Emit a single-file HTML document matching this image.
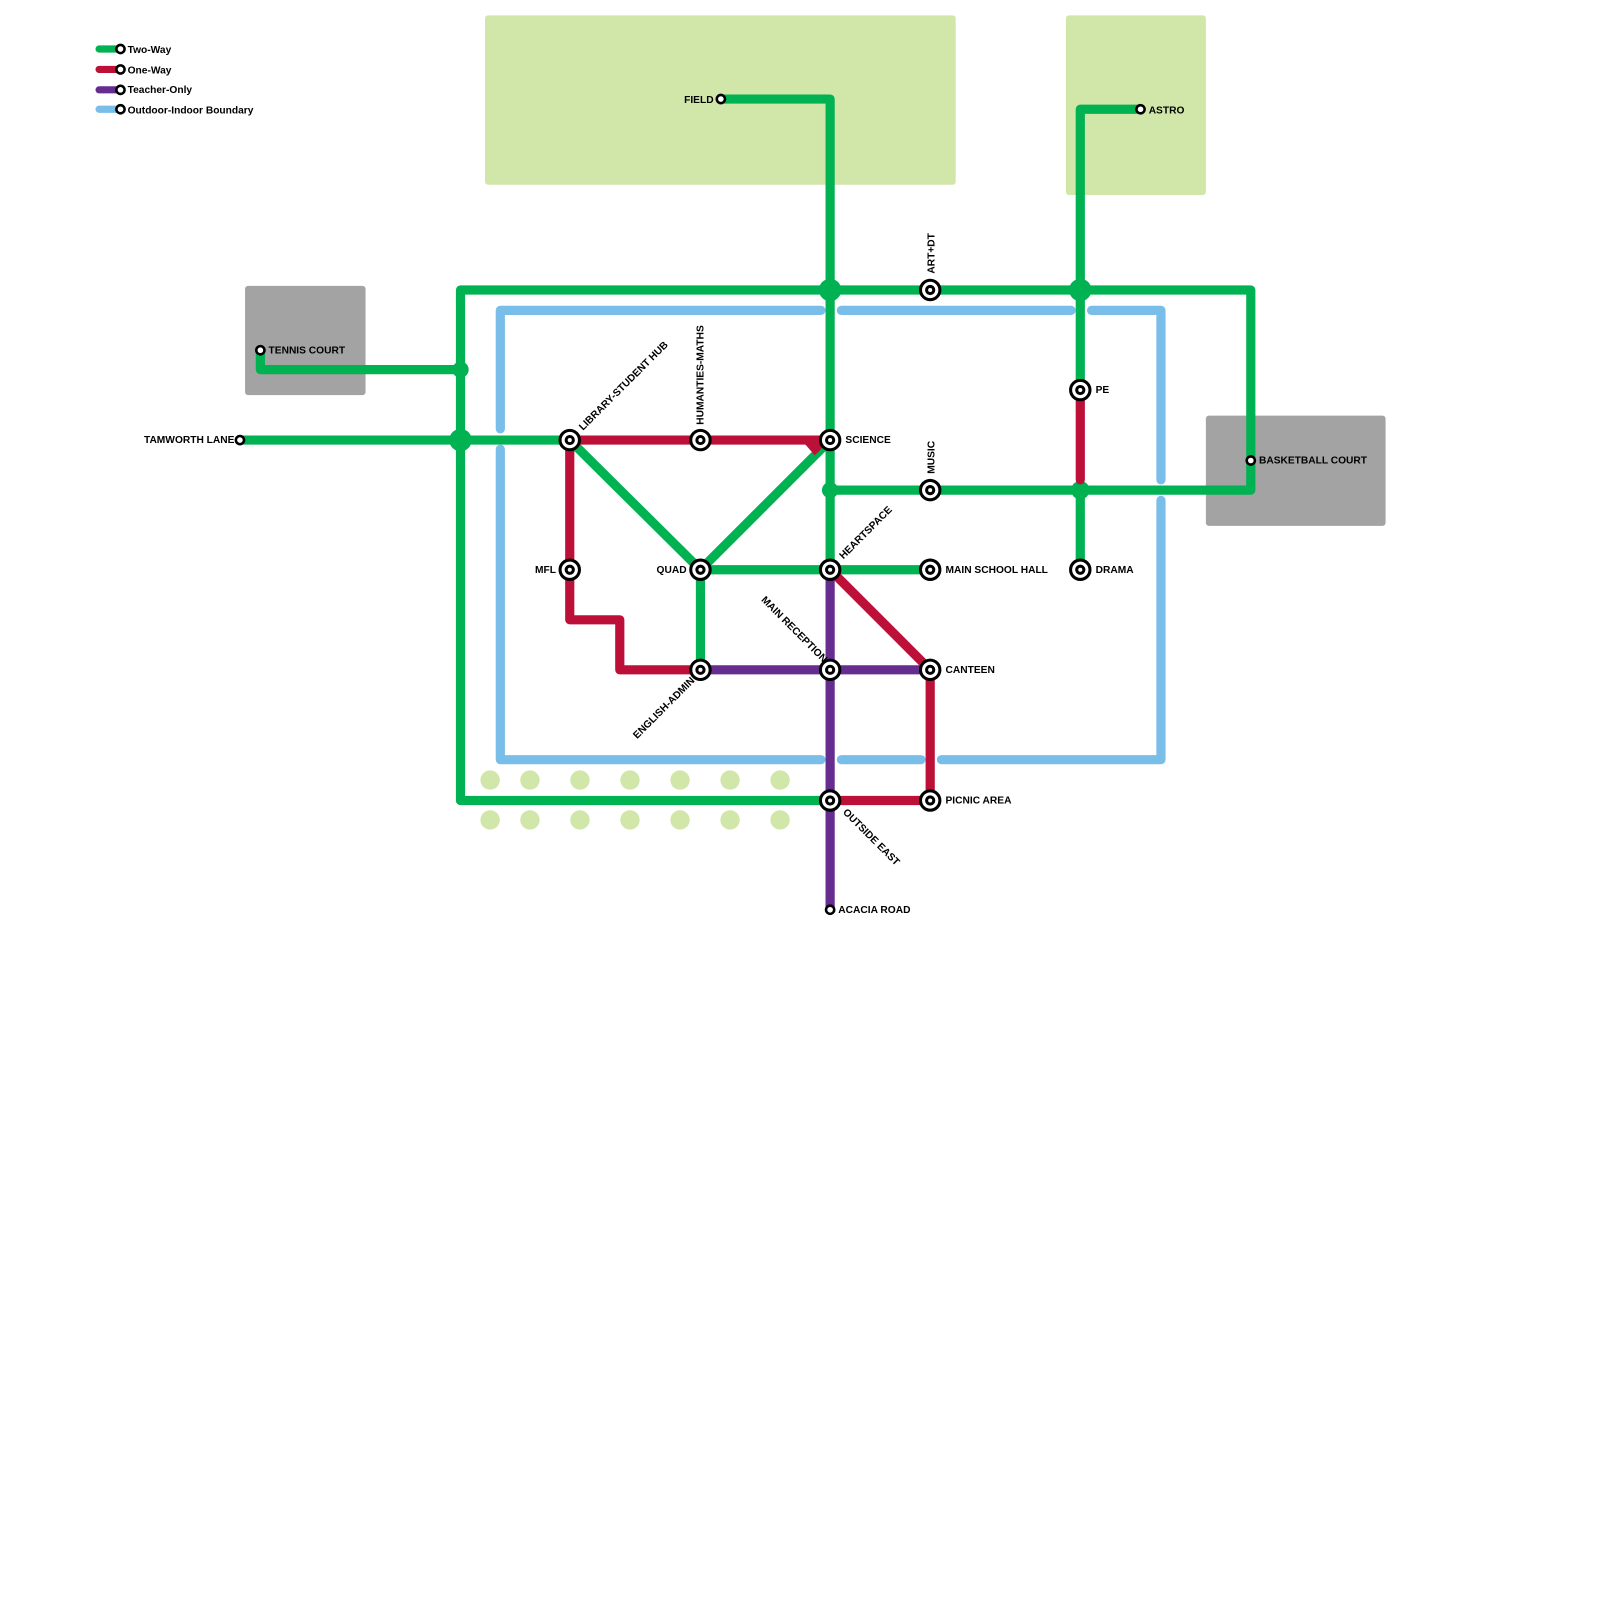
<!DOCTYPE html>
<html><head><meta charset="utf-8"><style>html,body{margin:0;padding:0;background:#fff}svg{display:block}text{font-family:"Liberation Sans",sans-serif;font-weight:bold;font-size:10px;fill:#000}</style></head><body>
<svg width="1600" height="1600" viewBox="0 0 1567 1567" xmlns="http://www.w3.org/2000/svg">
<rect x="475" y="15" width="461" height="166" rx="3" fill="#d1e6a9"/>
<rect x="1044" y="15" width="137" height="176" rx="3" fill="#d1e6a9"/>
<rect x="240" y="280" width="118" height="107" rx="3" fill="#a3a3a3"/>
<rect x="1181" y="407" width="176" height="108" rx="3" fill="#a3a3a3"/>
<g fill="#d1e6a9">
<circle cx="480" cy="764" r="9.5"/><circle cx="519" cy="764" r="9.5"/><circle cx="568" cy="764" r="9.5"/><circle cx="617" cy="764" r="9.5"/><circle cx="666" cy="764" r="9.5"/><circle cx="715" cy="764" r="9.5"/><circle cx="764" cy="764" r="9.5"/>
<circle cx="480" cy="803" r="9.5"/><circle cx="519" cy="803" r="9.5"/><circle cx="568" cy="803" r="9.5"/><circle cx="617" cy="803" r="9.5"/><circle cx="666" cy="803" r="9.5"/><circle cx="715" cy="803" r="9.5"/><circle cx="764" cy="803" r="9.5"/>
</g>
<g fill="none" stroke="#79bde9" stroke-width="9" stroke-linecap="round" stroke-linejoin="round">
<polyline points="490,420 490,304 804,304"/>
<polyline points="824,304 1049,304"/>
<polyline points="1069,304 1137,304 1137,470"/>
<polyline points="1137,490 1137,744 922,744"/>
<polyline points="902,744 824,744"/>
<polyline points="804,744 490,744 490,440"/>
</g>
<g fill="none" stroke="#00b251" stroke-width="9" stroke-linejoin="round" stroke-linecap="round">
<polyline points="813,784 451,784 451,284 1225,284 1225,480 813,480"/>
<polyline points="255,343 255,362 451,362"/>
<polyline points="235,431 558,431"/>
<polyline points="710,97 813,97 813,558"/>
<polyline points="1117,107 1058,107 1058,382"/>
<polyline points="1058,480 1058,558"/>
<polyline points="558,431 686,558 813,431"/>
<polyline points="686,656 686,558 911,558"/>
</g>
<g fill="#00b251">
<circle cx="451" cy="431" r="11"/><circle cx="813" cy="284" r="11"/><circle cx="1058" cy="284" r="11"/><circle cx="1058" cy="480" r="9"/><circle cx="813" cy="480" r="8"/><circle cx="451" cy="362" r="8"/>
</g>
<g fill="none" stroke="#bd1038" stroke-width="9" stroke-linejoin="round" stroke-linecap="round">
<polyline points="558,431 813,431"/>
<polyline points="558,431 558,607 607,607 607,656 686,656"/>
<polyline points="813,558 911,656 911,784 813,784"/>
<polyline points="1058,382 1058,470"/>
</g>
<polygon points="785,431 813,431 798,446" fill="#bd1038"/>
<g fill="none" stroke="#662d91" stroke-width="9" stroke-linecap="round">
<polyline points="813,558 813,890"/>
<polyline points="686,656 911,656"/>
</g>
<g fill="#fff" stroke="#000" stroke-width="3">
<circle cx="558" cy="431" r="9.5"/><circle cx="686" cy="431" r="9.5"/><circle cx="813" cy="431" r="9.5"/><circle cx="911" cy="284" r="9.5"/><circle cx="911" cy="480" r="9.5"/><circle cx="558" cy="558" r="9.5"/><circle cx="686" cy="558" r="9.5"/><circle cx="813" cy="558" r="9.5"/><circle cx="911" cy="558" r="9.5"/><circle cx="686" cy="656" r="9.5"/><circle cx="813" cy="656" r="9.5"/><circle cx="911" cy="656" r="9.5"/><circle cx="813" cy="784" r="9.5"/><circle cx="911" cy="784" r="9.5"/><circle cx="1058" cy="382" r="9.5"/><circle cx="1058" cy="558" r="9.5"/>
<circle cx="558" cy="431" r="3.5"/><circle cx="686" cy="431" r="3.5"/><circle cx="813" cy="431" r="3.5"/><circle cx="911" cy="284" r="3.5"/><circle cx="911" cy="480" r="3.5"/><circle cx="558" cy="558" r="3.5"/><circle cx="686" cy="558" r="3.5"/><circle cx="813" cy="558" r="3.5"/><circle cx="911" cy="558" r="3.5"/><circle cx="686" cy="656" r="3.5"/><circle cx="813" cy="656" r="3.5"/><circle cx="911" cy="656" r="3.5"/><circle cx="813" cy="784" r="3.5"/><circle cx="911" cy="784" r="3.5"/><circle cx="1058" cy="382" r="3.5"/><circle cx="1058" cy="558" r="3.5"/>
<circle cx="706" cy="97" r="4" stroke-width="2.5"/><circle cx="1117" cy="107" r="4" stroke-width="2.5"/><circle cx="255" cy="343" r="4" stroke-width="2.5"/><circle cx="235" cy="431" r="4" stroke-width="2.5"/><circle cx="1225" cy="451" r="4" stroke-width="2.5"/><circle cx="813" cy="891" r="4" stroke-width="2.5"/>
</g>
<g stroke-width="7" stroke-linecap="round">
<line x1="97" y1="48" x2="115" y2="48" stroke="#00b251"/>
<line x1="97" y1="68" x2="115" y2="68" stroke="#bd1038"/>
<line x1="97" y1="88" x2="115" y2="88" stroke="#662d91"/>
<line x1="97" y1="107" x2="115" y2="107" stroke="#79bde9"/>
</g>
<g fill="#fff" stroke="#000" stroke-width="2.5">
<circle cx="118" cy="48" r="4"/><circle cx="118" cy="68" r="4"/><circle cx="118" cy="88" r="4"/><circle cx="118" cy="107" r="4"/>
</g>
<text x="125" y="52">Two-Way</text>
<text x="125" y="72">One-Way</text>
<text x="125" y="91">Teacher-Only</text>
<text x="125" y="111">Outdoor-Indoor Boundary</text>
<text x="670" y="101">FIELD</text>
<text x="1125" y="111">ASTRO</text>
<text x="263" y="346">TENNIS COURT</text>
<text x="141" y="434">TAMWORTH LANE</text>
<text x="1233" y="454">BASKETBALL COURT</text>
<text x="828" y="434">SCIENCE</text>
<text x="1073" y="385">PE</text>
<text x="1073" y="561">DRAMA</text>
<text x="926" y="561">MAIN SCHOOL HALL</text>
<text x="926" y="659">CANTEEN</text>
<text x="926" y="787">PICNIC AREA</text>
<text x="821" y="894">ACACIA ROAD</text>
<text x="524" y="561">MFL</text>
<text x="643" y="561">QUAD</text>
<text transform="translate(915,268) rotate(-90)">ART+DT</text>
<text transform="translate(915,464) rotate(-90)">MUSIC</text>
<text transform="translate(689,416) rotate(-90)">HUMANTIES-MATHS</text>
<text transform="translate(571,422) rotate(-45)">LIBRARY-STUDENT HUB</text>
<text transform="translate(826,548) rotate(-45)">HEARTSPACE</text>
<text transform="translate(745,588) rotate(45)">MAIN RECEPTION</text>
<text transform="translate(825,796) rotate(45)">OUTSIDE EAST</text>
<text transform="translate(624,724) rotate(-45)">ENGLISH-ADMIN</text>
</svg>
</body></html>
